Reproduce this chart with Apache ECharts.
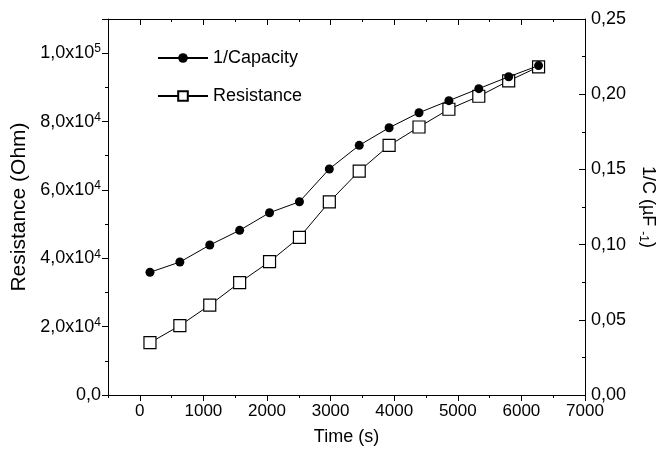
<!DOCTYPE html>
<html>
<head>
<meta charset="utf-8">
<script src="https://cdn.jsdelivr.net/npm/echarts@6/dist/echarts.min.js"></script>
<style>
    html, body {margin: 0; padding: 0; background: #fff;}
    #chart {width: 658px; height: 456px;}
</style>
</head>
<body>
<div id="chart"></div>
<script>
// time (s) of each measurement
var times = [160, 630, 1100, 1570, 2040, 2510, 2980, 3450, 3920, 4390, 4860, 5330, 5800, 6270];
// resistance (Ohm), left axis
var resistance = [15300, 20300, 26300, 32900, 39000, 46100, 56500, 65500, 73000, 78400, 83600, 87400, 91900, 96000];
// 1/C (uF^-1), right axis
var invCapacity = [0.0816, 0.0884, 0.0997, 0.1095, 0.1212, 0.1285, 0.1503, 0.1660, 0.1777, 0.1877, 0.1957, 0.2037, 0.2116, 0.2190];

// x tick positions every 500 s (labelled every 1000)
var xTickCats = ['-500', '0', '500', '1000', '1500', '2000', '2500', '3000', '3500',
    '4000', '4500', '5000', '5500', '6000', '6500', '7000'];
var xLabels = [0, 1000, 2000, 3000, 4000, 5000, 6000, 7000];

var font = 'Liberation Sans, Arial, sans-serif';

function pairs(xs, ys) {
    var out = [];
    for (var i = 0; i < xs.length; i++) {
        out.push([xs[i], ys[i]]);
    }
    return out;
}

function sciLabel(v) {
    if (v > 1e5) {
        return '';
    }
    if (v === 0) {
        return '0,0';
    }
    var e = Math.floor(Math.log10(v) + 1e-9);
    var m = v / Math.pow(10, e);
    return m.toFixed(1).replace('.', ',') + 'x10{sup|' + e + '}';
}

var axisLine = {show: true, onZero: false, lineStyle: {color: '#000', width: 1}};
var noLine = {show: false, onZero: false};

function ticks(len, inside) {
    return {show: true, inside: inside, length: len, lineStyle: {color: '#000', width: 1}};
}

// value axis that only draws the short ticks
function minorAxis(pos, min, max, step, inside) {
    return {
        type: 'value',
        position: pos,
        min: min,
        max: max,
        interval: step,
        axisLine: noLine,
        axisTick: ticks(3, inside),
        axisLabel: {show: false},
        splitLine: {show: false}
    };
}

// category overlay for the long x ticks at whole thousands
function xMajorAxis(pos, inside) {
    var t = ticks(6, inside);
    t.interval = function (idx, val) {
        return Number(val) % 1000 === 0;
    };
    return {
        type: 'category',
        position: pos,
        boundaryGap: false,
        data: xTickCats,
        axisLine: noLine,
        axisTick: t,
        axisLabel: {show: false},
        splitLine: {show: false}
    };
}

var option = {
    animation: false,
    backgroundColor: '#fff',
    textStyle: {fontFamily: font},
    grid: {left: 108, right: 73, top: 19, bottom: 61, outerBoundsMode: 'none', containLabel: false},
    legend: {
        orient: 'vertical',
        left: 152,
        top: 44,
        itemGap: 20,
        itemWidth: 50,
        itemHeight: 12,
        data: ['1/Capacity', 'Resistance'],
        textStyle: {fontFamily: font, fontSize: 18, color: '#000'}
    },
    xAxis: [
        {
            type: 'value',
            position: 'bottom',
            min: -500,
            max: 7000,
            interval: 500,
            name: 'Time (s)',
            nameLocation: 'middle',
            nameGap: 33,
            nameTextStyle: {fontFamily: font, fontSize: 18, color: '#000'},
            axisLine: axisLine,
            axisTick: ticks(3, false),
            splitLine: {show: false},
            axisLabel: {
                customValues: xLabels,
                margin: 8,
                fontFamily: font,
                fontSize: 17,
                color: '#000',
                formatter: function (v) {
                    return String(v);
                }
            }
        },
        xMajorAxis('bottom', false),
        {
            type: 'value',
            position: 'top',
            min: -500,
            max: 7000,
            interval: 500,
            axisLine: axisLine,
            axisTick: ticks(3, true),
            axisLabel: {show: false},
            splitLine: {show: false}
        },
        xMajorAxis('top', true)
    ],
    yAxis: [
        {
            type: 'value',
            position: 'left',
            min: 0,
            max: 110000,
            interval: 20000,
            name: 'Resistance (Ohm)',
            nameLocation: 'middle',
            nameGap: 77,
            nameTextStyle: {fontFamily: font, fontSize: 21, color: '#000'},
            axisLine: axisLine,
            axisTick: ticks(6, false),
            splitLine: {show: false},
            axisLabel: {
                margin: 7,
                fontFamily: font,
                fontSize: 18,
                lineHeight: 20,
                color: '#000',
                formatter: sciLabel,
                rich: {
                    sup: {fontSize: 12, verticalAlign: 'top', lineHeight: 12, padding: [0, 0, 4, 0]}
                }
            }
        },
        {
            type: 'value',
            position: 'right',
            min: 0,
            max: 0.25,
            interval: 0.05,
            name: '1/C (\u00b5F {sub|-1})',
            nameLocation: 'middle',
            nameRotate: -90,
            nameGap: 46,
            nameTextStyle: {
                fontFamily: font,
                fontSize: 18,
                lineHeight: 22,
                color: '#000',
                rich: {
                    sub: {fontSize: 12, verticalAlign: 'bottom', lineHeight: 12}
                }
            },
            axisLine: axisLine,
            axisTick: ticks(6, true),
            splitLine: {show: false},
            axisLabel: {
                margin: 6,
                fontFamily: font,
                fontSize: 18,
                color: '#000',
                formatter: function (v) {
                    return v.toFixed(2).replace('.', ',');
                }
            }
        },
        minorAxis('left', 0, 110000, 10000, false),
        minorAxis('right', 0, 0.25, 0.025, true)
    ],
    series: [
        {
            name: 'Resistance',
            type: 'line',
            xAxisIndex: 0,
            yAxisIndex: 0,
            z: 2,
            data: pairs(times, resistance),
            symbol: 'rect',
            symbolSize: 12,
            lineStyle: {color: '#000', width: 1},
            itemStyle: {color: '#fff', borderColor: '#000', borderWidth: 1.2}
        },
        {
            name: '1/Capacity',
            type: 'line',
            xAxisIndex: 0,
            yAxisIndex: 1,
            z: 3,
            data: pairs(times, invCapacity),
            symbol: 'circle',
            symbolSize: 9,
            lineStyle: {color: '#000', width: 1},
            itemStyle: {color: '#000', borderColor: '#000', borderWidth: 0}
        }
    ]
};

var myChart = echarts.init(document.getElementById('chart'));
myChart.setOption(option);
</script>
</body>
</html>
